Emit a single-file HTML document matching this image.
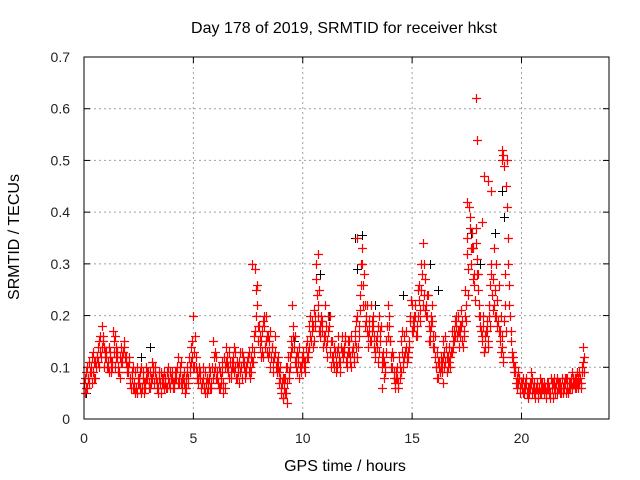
<!DOCTYPE html>
<html><head><meta charset="utf-8"><style>
html,body{margin:0;padding:0;background:#fff}
svg{display:block;font-family:"Liberation Sans",sans-serif}
</style></head><body>
<svg id="chart" width="640" height="480" viewBox="0 0 640 480" xmlns="http://www.w3.org/2000/svg">
<rect width="640" height="480" fill="#fff"/>
<text x="344" y="33" font-size="16" text-anchor="middle" fill="#000">Day 178 of 2019, SRMTID for receiver hkst</text>
<text x="345" y="471" font-size="16" text-anchor="middle">GPS time / hours</text>
<text transform="translate(19,237) rotate(-90)" font-size="16" text-anchor="middle">SRMTID / TECUs</text>
<g id="grid"></g>
<g id="ticks"></g>
<g id="black-pts" stroke="#000" stroke-width="1"></g>
<g id="red-pts" stroke="#f00" stroke-width="1.2"></g>
<rect x="84" y="57" width="525" height="362" fill="none" stroke="#000" stroke-width="1"/>
</svg>
<script>
const xTicks=[0,5,10,15,20];
const yTicks=[0,0.1,0.2,0.3,0.4,0.5,0.6,0.7];
const yTickLabels=["0","0.1","0.2","0.3","0.4","0.5","0.6","0.7"];
const redA=[0.07,0.09,0.08,0.1,0.09,0.11,0.12,0.15,0.18,0.14,
0.12,0.1,0.13,0.11,0.16,0.12,0.09,0.14,0.13,0.11,
0.09,0.07,0.08,0.06,0.1,0.07,0.05,0.09,0.07,0.08,
0.09,0.11,0.07,0.08,0.06,0.09,0.07,0.08,0.06,0.07,
0.09,0.07,0.08,0.12,0.1,0.06,0.05,0.09,0.12,0.14,
0.2,0.1,0.08,0.09,0.07,0.06,0.05,0.08,0.07,0.15,
0.1,0.08,0.06,0.09,0.12,0.14,0.1,0.09,0.12,0.1,
0.08,0.11,0.13,0.1,0.09,0.12,0.1,0.14,0.29,0.22,
0.18,0.15,0.12,0.2,0.16,0.1,0.14,0.12,0.09,0.07,
0.05,0.04,0.08,0.1,0.12,0.22,0.14,0.1,0.12,0.09,
0.13,0.11,0.15,0.18,0.17,0.21,0.3,0.2,0.16,0.19,
0.22,0.15,0.18,0.1,0.12,0.09,0.14,0.11,0.16,0.13,
0.12,0.15,0.1,0.14,0.17,0.2,0.24,0.33,0.28,0.2,
0.14,0.22,0.18,0.12,0.16,0.2,0.1,0.08,0.13,0.22,
0.15,0.1,0.06,0.08,0.12,0.15,0.1,0.14,0.12,0.19,
0.22,0.18,0.16,0.26,0.3,0.34,0.27,0.2,0.17,0.22,
0.14,0.1,0.08,0.12,0.15,0.11,0.09,0.14,0.17,0.15,
0.18,0.2,0.16,0.19,0.25,0.35,0.41,0.3,0.33,0.37,
0.25,0.2,0.15,0.13,0.19,0.22,0.3,0.27,0.25,0.23,
0.17,0.14,0.19,0.45,0.3,0.15,0.12,0.09,0.06,0.08,
0.06,0.05,0.07,0.04,0.06,0.08,0.05,0.07,0.06,0.05,
0.06,0.04,0.07,0.05,0.06,0.08,0.05,0.07,0.06,0.05,
0.07,0.08,0.06,0.09,0.07,0.08,0.06,0.07,0.14];
const redB=[0.05,0.1,0.07,0.12,0.08,0.1,0.14,0.13,0.16,0.12,
0.1,0.14,0.09,0.15,0.12,0.1,0.12,0.11,0.15,0.1,
0.12,0.06,0.1,0.05,0.08,0.09,0.06,0.07,0.1,0.06,
0.07,0.1,0.09,0.06,0.08,0.07,0.09,0.06,0.08,0.09,
0.06,0.09,0.1,0.08,0.07,0.09,0.08,0.07,0.1,0.15,
0.13,0.09,0.1,0.06,0.08,0.09,0.07,0.06,0.1,0.12,
0.08,0.1,0.07,0.05,0.1,0.12,0.08,0.11,0.14,0.08,
0.1,0.09,0.12,0.08,0.11,0.09,0.12,0.16,0.25,0.18,
0.14,0.17,0.2,0.13,0.15,0.12,0.11,0.16,0.1,0.08,
0.07,0.06,0.1,0.09,0.15,0.18,0.11,0.13,0.08,0.11,
0.1,0.14,0.12,0.2,0.14,0.18,0.24,0.25,0.19,0.15,
0.18,0.2,0.13,0.15,0.1,0.13,0.11,0.14,0.12,0.16,
0.15,0.11,0.13,0.12,0.14,0.16,0.3,0.26,0.22,0.17,
0.17,0.19,0.14,0.15,0.11,0.17,0.13,0.1,0.18,0.18,
0.12,0.08,0.09,0.06,0.1,0.13,0.16,0.11,0.15,0.23,
0.17,0.2,0.25,0.21,0.28,0.24,0.22,0.18,0.2,0.16,
0.12,0.13,0.1,0.09,0.13,0.14,0.12,0.1,0.15,0.19,
0.16,0.14,0.21,0.16,0.22,0.29,0.39,0.36,0.28,0.31,
0.22,0.17,0.18,0.16,0.14,0.26,0.24,0.33,0.2,0.26,
0.2,0.12,0.22,0.5,0.26,0.13,0.1,0.07,0.09,0.05,
0.08,0.07,0.05,0.06,0.09,0.05,0.06,0.04,0.08,0.06,
0.05,0.07,0.06,0.08,0.04,0.06,0.07,0.05,0.08,0.07,
0.05,0.06,0.08,0.07,0.06,0.09,0.07,0.1,0.09];
const redC=[0.08,0.06,0.11,0.09,0.13,0.08,0.11,0.16,0.14,0.1,
0.13,0.09,0.11,0.17,0.1,0.13,0.08,0.12,0.14,0.12,
0.1,0.08,0.06,0.09,0.05,0.08,0.1,0.05,0.08,0.09,
0.06,0.08,0.1,0.07,0.09,0.05,0.08,0.07,0.1,0.06,
0.08,0.06,0.09,0.07,0.11,0.08,0.06,0.1,0.09,0.12,
0.1,0.12,0.07,0.08,0.1,0.05,0.08,0.1,0.06,0.09,
0.12,0.07,0.09,0.11,0.06,0.1,0.13,0.08,0.1,0.13,
0.09,0.13,0.08,0.11,0.1,0.13,0.09,0.11,0.17,0.26,
0.16,0.13,0.18,0.15,0.12,0.17,0.09,0.13,0.11,0.09,
0.06,0.08,0.05,0.12,0.1,0.14,0.16,0.09,0.14,0.1,
0.12,0.09,0.13,0.16,0.19,0.15,0.27,0.17,0.2,0.14,
0.16,0.12,0.2,0.12,0.14,0.11,0.16,0.09,0.13,0.15,
0.1,0.13,0.16,0.11,0.19,0.14,0.21,0.3,0.18,0.22,
0.19,0.15,0.2,0.13,0.18,0.15,0.12,0.11,0.15,0.2,
0.1,0.12,0.07,0.1,0.08,0.17,0.12,0.17,0.13,0.2,
0.19,0.22,0.18,0.23,0.25,0.3,0.2,0.24,0.15,0.19,
0.16,0.08,0.11,0.1,0.12,0.16,0.1,0.12,0.13,0.17,
0.2,0.17,0.18,0.14,0.2,0.32,0.37,0.33,0.26,0.34,
0.28,0.18,0.2,0.14,0.17,0.2,0.28,0.22,0.3,0.19,
0.15,0.16,0.28,0.41,0.22,0.17,0.11,0.1,0.07,0.06,
0.07,0.06,0.08,0.05,0.07,0.06,0.04,0.06,0.05,0.07,
0.07,0.05,0.06,0.04,0.07,0.05,0.08,0.06,0.05,0.06,
0.08,0.05,0.07,0.06,0.08,0.07,0.09,0.06,0.11];
const redD=[0.06,0.08,0.09,0.07,0.11,0.12,0.1,0.12,0.15,0.13,
0.11,0.12,0.1,0.13,0.14,0.09,0.11,0.13,0.12,0.09,
0.11,0.09,0.07,0.06,0.07,0.06,0.08,0.06,0.09,0.07,
0.08,0.09,0.08,0.05,0.07,0.08,0.06,0.09,0.07,0.08,
0.07,0.08,0.07,0.09,0.08,0.07,0.06,0.08,0.11,0.1,
0.16,0.08,0.09,0.07,0.06,0.07,0.06,0.09,0.08,0.13,
0.09,0.06,0.08,0.07,0.11,0.09,0.11,0.1,0.09,0.11,
0.07,0.1,0.11,0.09,0.12,0.08,0.11,0.13,0.2,0.15,
0.12,0.19,0.14,0.16,0.13,0.14,0.12,0.1,0.12,0.1,
0.08,0.05,0.07,0.08,0.13,0.16,0.12,0.11,0.1,0.12,
0.11,0.12,0.14,0.15,0.18,0.2,0.22,0.18,0.17,0.16,
0.14,0.17,0.15,0.11,0.13,0.1,0.12,0.13,0.14,0.11,
0.13,0.12,0.14,0.15,0.12,0.18,0.26,0.22,0.19,0.16,
0.15,0.17,0.16,0.14,0.13,0.18,0.11,0.09,0.16,0.15,
0.13,0.09,0.08,0.07,0.09,0.11,0.13,0.12,0.14,0.17,
0.2,0.16,0.2,0.19,0.22,0.21,0.24,0.15,0.18,0.14,
0.1,0.11,0.09,0.11,0.1,0.12,0.11,0.13,0.14,0.16,
0.17,0.18,0.15,0.17,0.19,0.24,0.33,0.27,0.23,0.28,
0.2,0.16,0.13,0.17,0.15,0.18,0.21,0.2,0.18,0.17,
0.13,0.11,0.17,0.35,0.2,0.12,0.09,0.08,0.08,0.07,
0.05,0.06,0.06,0.07,0.05,0.07,0.06,0.05,0.07,0.06,
0.06,0.06,0.05,0.07,0.06,0.07,0.06,0.07,0.06,0.08,
0.06,0.07,0.07,0.08,0.06,0.08,0.08,0.09,0.12];
const redExtraT=[17.9,17.95,18.3,19.1,19.1,18.6,12.5,10.7,7.7,17.5,18.45,19.2,19.15,18.2,9.1,9.3,13.6,16.4];
const redExtraV=[0.62,0.54,0.47,0.52,0.5,0.44,0.35,0.32,0.3,0.42,0.46,0.49,0.51,0.38,0.04,0.03,0.06,0.07];
const blackT=[12.4,12.7,10.6,19.1,18.1,3.0,9.6,14.6,15.8,16.2,19.2,18.8,12.5,17.7,0.1,2.6,5.9,10.8,13.3,11.2];
const blackV=[0.35,0.355,0.30,0.44,0.30,0.14,0.15,0.24,0.30,0.25,0.39,0.36,0.29,0.36,0.05,0.12,0.15,0.28,0.22,0.2];

const X0=84,X1=609,Y0=419,Y1=57;
const sx=t=>X0+(t/24)*(X1-X0);
const sy=v=>Y0-(v/0.7)*(Y0-Y1);
const NS="http://www.w3.org/2000/svg";
function mk(tag,attrs,parent){const e=document.createElementNS(NS,tag);for(const k in attrs)e.setAttribute(k,attrs[k]);parent.appendChild(e);return e;}
const grid=document.getElementById('grid'),ticks=document.getElementById('ticks');
xTicks.forEach(t=>{
  const x=sx(t);
  if(t>0){const g=mk('line',{x1:x,x2:x,y1:Y1,y2:Y0,stroke:'#a0a0a0','stroke-dasharray':'2,3'},grid);
  
  }
  mk('line',{x1:x,x2:x,y1:Y0,y2:Y0-6,stroke:'#000'},ticks);
  mk('line',{x1:x,x2:x,y1:Y1,y2:Y1+6,stroke:'#000'},ticks);
  const l=mk('text',{x:x,y:Y0+24,'font-size':14,'text-anchor':'middle',fill:'#222'},ticks);l.textContent=t;
  
  
});
yTicks.forEach((v,i)=>{
  const y=sy(v);
  if(i>0&&i<yTicks.length-1){const g=mk('line',{x1:X0,x2:X1,y1:y,y2:y,stroke:'#a0a0a0','stroke-dasharray':'2,3'},grid);
  
  }
  mk('line',{x1:X0,x2:X0+6,y1:y,y2:y,stroke:'#000'},ticks);
  mk('line',{x1:X1,x2:X1-6,y1:y,y2:y,stroke:'#000'},ticks);
  const l=mk('text',{x:X0-14,y:y+5,'font-size':14,'text-anchor':'end',fill:'#222'},ticks);l.textContent=yTickLabels[i];
  
  
});
function plus(g,t,v,name){
  const x=Math.round(sx(t))+0.5,y=Math.round(sy(v))+0.5;
  const p=mk('path',{d:`M${x-4.5},${y}H${x+4.5}M${x},${y-4.5}V${y+4.5}`},g);
  
  
}
const bg=document.getElementById('black-pts'),rg=document.getElementById('red-pts');
blackT.forEach((t,i)=>plus(bg,t,blackV[i],'black-point'));
redA.forEach((v,i)=>plus(rg,i*0.1,v,'red-point'));
redC.forEach((v,i)=>plus(rg,i*0.1+0.025,v,'red-point'));
redB.forEach((v,i)=>plus(rg,i*0.1+0.05,v,'red-point'));
redD.forEach((v,i)=>plus(rg,i*0.1+0.075,v,'red-point'));
redExtraT.forEach((t,i)=>plus(rg,t,redExtraV[i],'red-point'));
</script>
</body></html>
